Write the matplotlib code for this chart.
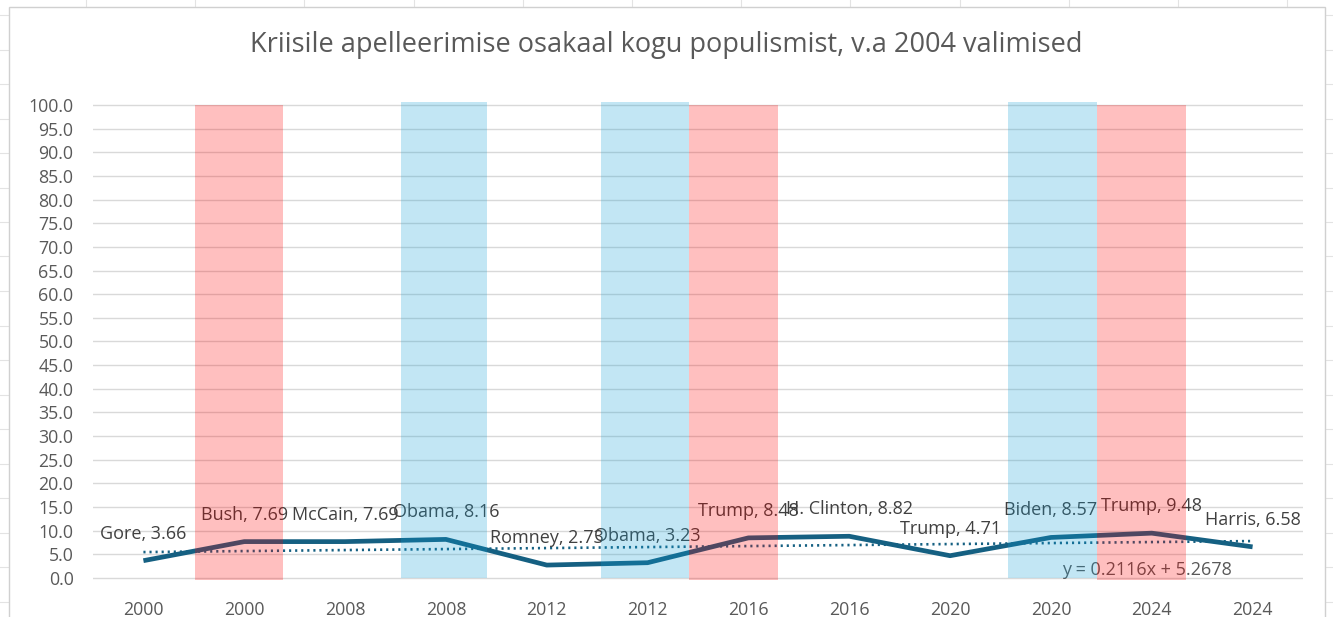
import matplotlib
matplotlib.use('Agg')
import matplotlib.pyplot as plt
from matplotlib.patches import Rectangle
from matplotlib.ticker import FormatStrFormatter
import numpy as np

# ── data ──────────────────────────────────────────────────────────────
years = ['2000', '2000', '2008', '2008', '2012', '2012',
         '2016', '2016', '2020', '2020', '2024', '2024']
candidates = ['Gore', 'Bush', 'McCain', 'Obama', 'Romney', 'Obama',
              'Trump', 'H. Clinton', 'Trump', 'Biden', 'Trump', 'Harris']
shares = [3.66, 7.69, 7.69, 8.16, 2.73, 3.23,
          8.48, 8.82, 4.71, 8.57, 9.48, 6.58]

# Excel linear trendline as shown on the chart (x = 1..n)
trend_slope = 0.2116
trend_intercept = 5.2678

# winner bands (secondary series, in category units)
band_party = ['R', 'D', 'D', 'R', 'D', 'R']
band_start = [0.51, 2.55, 4.54, 5.41, 8.57, 9.46]
band_end = [1.385, 3.41, 5.41, 6.29, 9.46, 10.34]
band_bottom = [-0.5, 0.0, 0.0, -0.5, 0.0, -0.5]
band_top = [100.0, 100.7, 100.7, 100.0, 100.7, 100.0]

# ── style ─────────────────────────────────────────────────────────────
LINE_CLR = '#156082'
TEXT_CLR = '#595959'
LABEL_CLR = '#404040'
GRID_CLR = '#D9D9D9'
PARTY_CLR = {'R': '#FF0000', 'D': '#0F9ED5'}
FONT = ['Open Sans', 'DejaVu Sans']

plt.rcParams['font.family'] = FONT

W, H = 1333, 617
fig = plt.figure(figsize=(W / 100, H / 100), dpi=100)
fig.patch.set_facecolor('white')

# spreadsheet cell grid behind the chart area
for gx in np.arange(86, W, 109.2):
    fig.add_artist(plt.Line2D([gx / W, gx / W], [0, 1], color='#E3E3E3',
                              lw=0.8, transform=fig.transFigure, zorder=0))
for gy in np.arange(15, H, 34.5):
    fig.add_artist(plt.Line2D([0, 1], [1 - gy / H, 1 - gy / H], color='#E3E3E3',
                              lw=0.8, transform=fig.transFigure, zorder=0))
fig.add_artist(Rectangle((9 / W, -0.01), (1325 - 9) / W, 1 - 7 / H + 0.01,
                         transform=fig.transFigure, facecolor='white',
                         edgecolor='#D0D0D0', lw=1.0, zorder=0.5))

ax = fig.add_axes([93 / W, 1 - 581.3 / H, (1303 - 93) / W, (581.3 - 101.2) / H])
ax.set_facecolor('none')
ax.set_zorder(1)

x = np.arange(len(shares))

# main line
ax.plot(x, shares, color=LINE_CLR, lw=3.4, solid_joinstyle='round',
        solid_capstyle='butt', zorder=3)

# linear trendline
ax.plot(x, trend_slope * (x + 1) + trend_intercept, color=LINE_CLR, lw=1.9,
        ls=(0, (0.8, 1.5)), zorder=3)
ax.text(9.95, 1.7, f'y = {trend_slope:.4f}x + {trend_intercept:.4f}',
        ha='center', va='center', fontsize=13, color=TEXT_CLR, zorder=4)

# data labels
for xi, name, val in zip(x, candidates, shares):
    ax.annotate(f'{name}, {val:.2f}', (xi, val), xytext=(0, 19.5),
                textcoords='offset points', ha='center', va='center',
                fontsize=13, color=LABEL_CLR, zorder=4)

# winner bands (translucent, on top)
for p, s, e, b, t in zip(band_party, band_start, band_end, band_bottom, band_top):
    ax.bar(s, t - b, width=e - s, bottom=b, align='edge',
           color=PARTY_CLR[p], alpha=0.25, lw=0, zorder=5)

# axes
ax.set_xlim(-0.5, len(shares) - 0.5)
ax.set_ylim(-0.7, 100.8)
ax.set_yticks(np.arange(0, 101, 5))
ax.yaxis.set_major_formatter(FormatStrFormatter('%.1f'))
ax.set_xticks(x)
ax.set_xticklabels(years)
ax.tick_params(axis='both', length=0, labelsize=12.8, colors=TEXT_CLR)
ax.tick_params(axis='y', pad=14)
ax.tick_params(axis='x', pad=14)
ax.yaxis.grid(True, color=GRID_CLR, lw=1.0, zorder=0)
ax.set_axisbelow(True)
for sp in ax.spines.values():
    sp.set_visible(False)

fig.text(0.5, 1 - 45 / H,
         'Kriisile apelleerimise osakaal kogu populismist, v.a 2004 valimised',
         ha='center', va='center', fontsize=19.5, color=TEXT_CLR)

fig.savefig('out.png', dpi=100, facecolor='white')
plt.close()
